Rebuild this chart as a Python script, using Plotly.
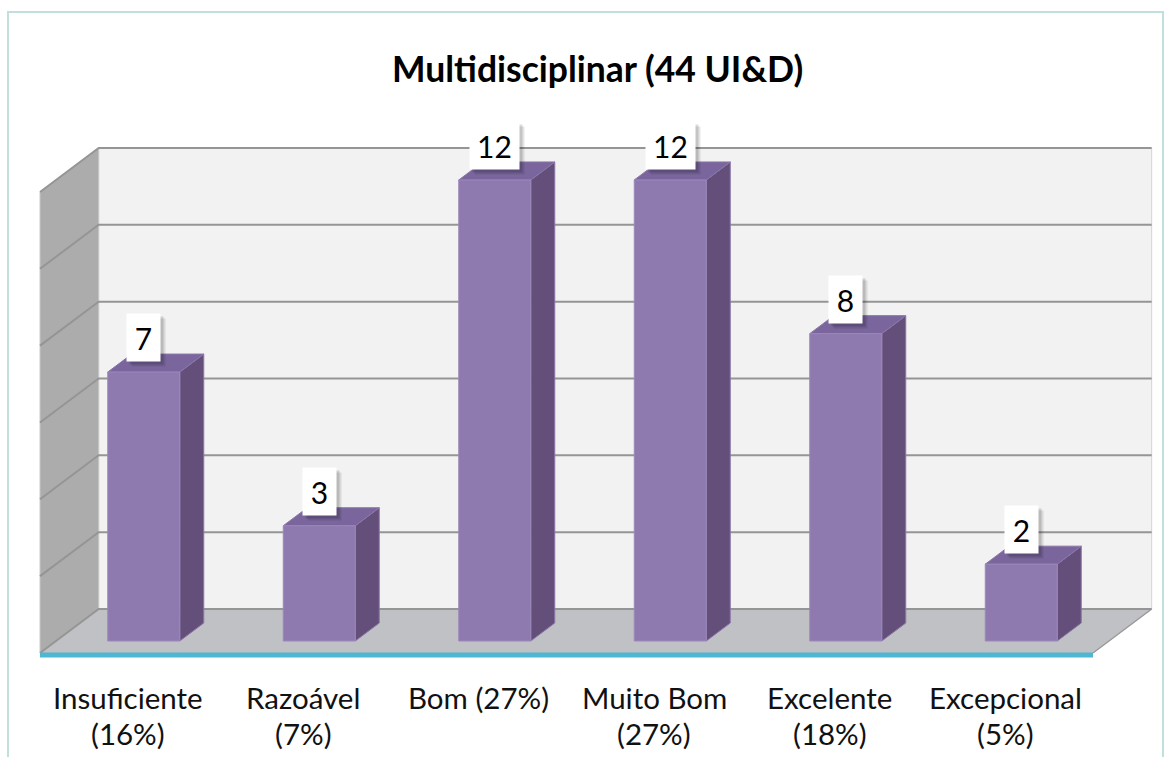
import plotly.graph_objects as go

# ---------------- data ----------------
categories = ["Insuficiente (16%)", "Razoável (7%)", "Bom (27%)",
              "Muito Bom (27%)", "Excelente (18%)", "Excepcional (5%)"]
tick_labels = ["Insuficiente<br>(16%)", "Razoável<br>(7%)", "Bom (27%)",
               "Muito Bom<br>(27%)", "Excelente<br>(18%)", "Excepcional<br>(5%)"]
values = [7, 3, 12, 12, 8, 2]
y_max = 12
y_step = 2
title = "Multidisciplinar (44 UI&D)"

# ---------------- geometry (pseudo 3D projection) ----------------
W, H = 1175, 757
XS = 175.5          # px per category unit
YS = 38.42          # px per value unit
X0PX = 40           # px of x = -0.5
Y0PX = 653          # px of y = 0 (front plane)
KX = 4.0 / 3.0      # horizontal shift per depth px
WALL_Z = 44         # depth of back wall (px)
BAR_Z0, BAR_Z1 = 12, 30
BAR_HALF = 36 / XS

def proj(x, y, z):
    return x + z * KX / XS, y + z / YS

def poly(points):
    xs, ys = [], []
    for p in points:
        px, py = proj(*p)
        xs.append(px)
        ys.append(py)
    xs.append(xs[0])
    ys.append(ys[0])
    return xs, ys

n = len(categories)
xl, xr = -0.5, n - 0.5
fig = go.Figure()

def add_poly(points, fill, line_color=None, line_width=0):
    xs, ys = poly(points)
    fig.add_trace(go.Scatter(x=xs, y=ys, mode="lines", fill="toself",
                             fillcolor=fill,
                             line=dict(color=line_color or fill, width=line_width),
                             hoverinfo="skip", showlegend=False))

def add_line(points, color, width):
    xs, ys = [], []
    for p in points:
        px, py = proj(*p)
        xs.append(px)
        ys.append(py)
    fig.add_trace(go.Scatter(x=xs, y=ys, mode="lines",
                             line=dict(color=color, width=width),
                             hoverinfo="skip", showlegend=False))

# back wall
add_poly([(xl, 0, WALL_Z), (xr, 0, WALL_Z), (xr, y_max, WALL_Z), (xl, y_max, WALL_Z)],
         "#f2f2f2", "#d4d4d4", 1)
# side wall
add_poly([(xl, 0, 0), (xl, y_max, 0), (xl, y_max, WALL_Z), (xl, 0, WALL_Z)],
         "#acacac", "#c8c8c8", 1)
# floor
add_poly([(xl, 0, 0), (xr, 0, 0), (xr, 0, WALL_Z), (xl, 0, WALL_Z)], "#bfc1c4")
add_line([(xr, 0, 0), (xr, 0, WALL_Z)], "#9a9a9a", 1.5)

# gridlines
for v in range(0, y_max + 1, y_step):
    add_line([(xl, v, 0), (xl, v, WALL_Z), (xr, v, WALL_Z)], "#959595", 2)

# bars: sides and tops
for k, v in enumerate(values):
    add_poly([(k + BAR_HALF, 0, BAR_Z0), (k + BAR_HALF, v, BAR_Z0),
              (k + BAR_HALF, v, BAR_Z1), (k + BAR_HALF, 0, BAR_Z1)],
             "#644f7b", "#8a76a8", 1)
    add_poly([(k - BAR_HALF, v, BAR_Z0), (k + BAR_HALF, v, BAR_Z0),
              (k + BAR_HALF, v, BAR_Z1), (k - BAR_HALF, v, BAR_Z1)],
             "#7a669d", "#8a76a8", 1)

# blue axis line at the front of the floor
bx0, by0 = proj(xl, 0, 0)
bx1, _ = proj(xr, 0, 0)
fig.add_trace(go.Scatter(x=[bx0, bx1], y=[by0 - 2 / YS, by0 - 2 / YS], mode="lines",
                         line=dict(color="#4db6d0", width=5),
                         hoverinfo="skip", showlegend=False))

# bar front faces (on an overlaying axis pair so they sit on top)
fx_shift = BAR_Z0 * KX / XS
fy_shift = BAR_Z0 / YS
fig.add_trace(go.Bar(x=[k + fx_shift for k in range(n)], y=values,
                     base=[fy_shift] * n, width=2 * BAR_HALF,
                     xaxis="x2", yaxis="y2",
                     marker=dict(color="#8f7ab0", line=dict(color="#9b88ba", width=1)),
                     hoverinfo="skip", showlegend=False))

# data labels (white boxes with soft shadow)
for k, v in enumerate(values):
    txt = str(v)
    w = 17 if len(txt) == 1 else 33
    pos = dict(x=k + fx_shift, y=v + fy_shift, xref="x", yref="y",
               showarrow=False, yanchor="bottom", xanchor="center",
               width=w, height=31, borderpad=8)
    fig.add_annotation(text=" ", bgcolor="rgba(0,0,0,0.10)", xshift=5, yshift=5,
                       font=dict(family="Lato", size=30, color="rgba(0,0,0,0)"), **pos)
    fig.add_annotation(text=" ", bgcolor="rgba(0,0,0,0.14)", xshift=3, yshift=7,
                       font=dict(family="Lato", size=30, color="rgba(0,0,0,0)"), **pos)
    fig.add_annotation(text=txt, bgcolor="#ffffff", yshift=10,
                       font=dict(family="Lato", size=30, color="#000000"), **pos)

# category labels
for k, lab in enumerate(tick_labels):
    lines = lab.split("<br>")
    for i, line in enumerate(lines):
        fig.add_annotation(text=line, x=k, y=1 - (697 + 36 * i) / H,
                           xref="x", yref="paper", showarrow=False,
                           xanchor="center", yanchor="middle",
                           font=dict(family="Lato", size=29.5, color="#111111"))

# title
fig.add_annotation(text="<b>" + title + "</b>", x=597 / W, y=1 - 68 / H,
                   xref="paper", yref="paper", showarrow=False,
                   xanchor="center", yanchor="middle",
                   font=dict(family="Lato", size=35.5, color="#000000"))

# outer border
fig.add_shape(type="rect", xref="paper", yref="paper",
              x0=8 / W, x1=1163 / W, y0=-0.05, y1=1 - 12 / H,
              line=dict(color="#bfe0dc", width=2))

xrange = [-X0PX / XS - 0.5, (W - X0PX) / XS - 0.5]
yrange = [-(H - Y0PX) / YS, Y0PX / YS]
fig.update_layout(
    width=W, height=H, margin=dict(l=0, r=0, t=0, b=0),
    paper_bgcolor="white", plot_bgcolor="white", showlegend=False,
    xaxis=dict(visible=False, range=xrange, fixedrange=True),
    yaxis=dict(visible=False, range=yrange, fixedrange=True),
    xaxis2=dict(visible=False, range=xrange, fixedrange=True, overlaying="x"),
    yaxis2=dict(visible=False, range=yrange, fixedrange=True, overlaying="y"),
    barmode="overlay",
)

fig.write_html("out.html", config={"displayModeBar": False},
               post_script="document.body.style.margin='0';document.body.style.overflow='hidden';")
